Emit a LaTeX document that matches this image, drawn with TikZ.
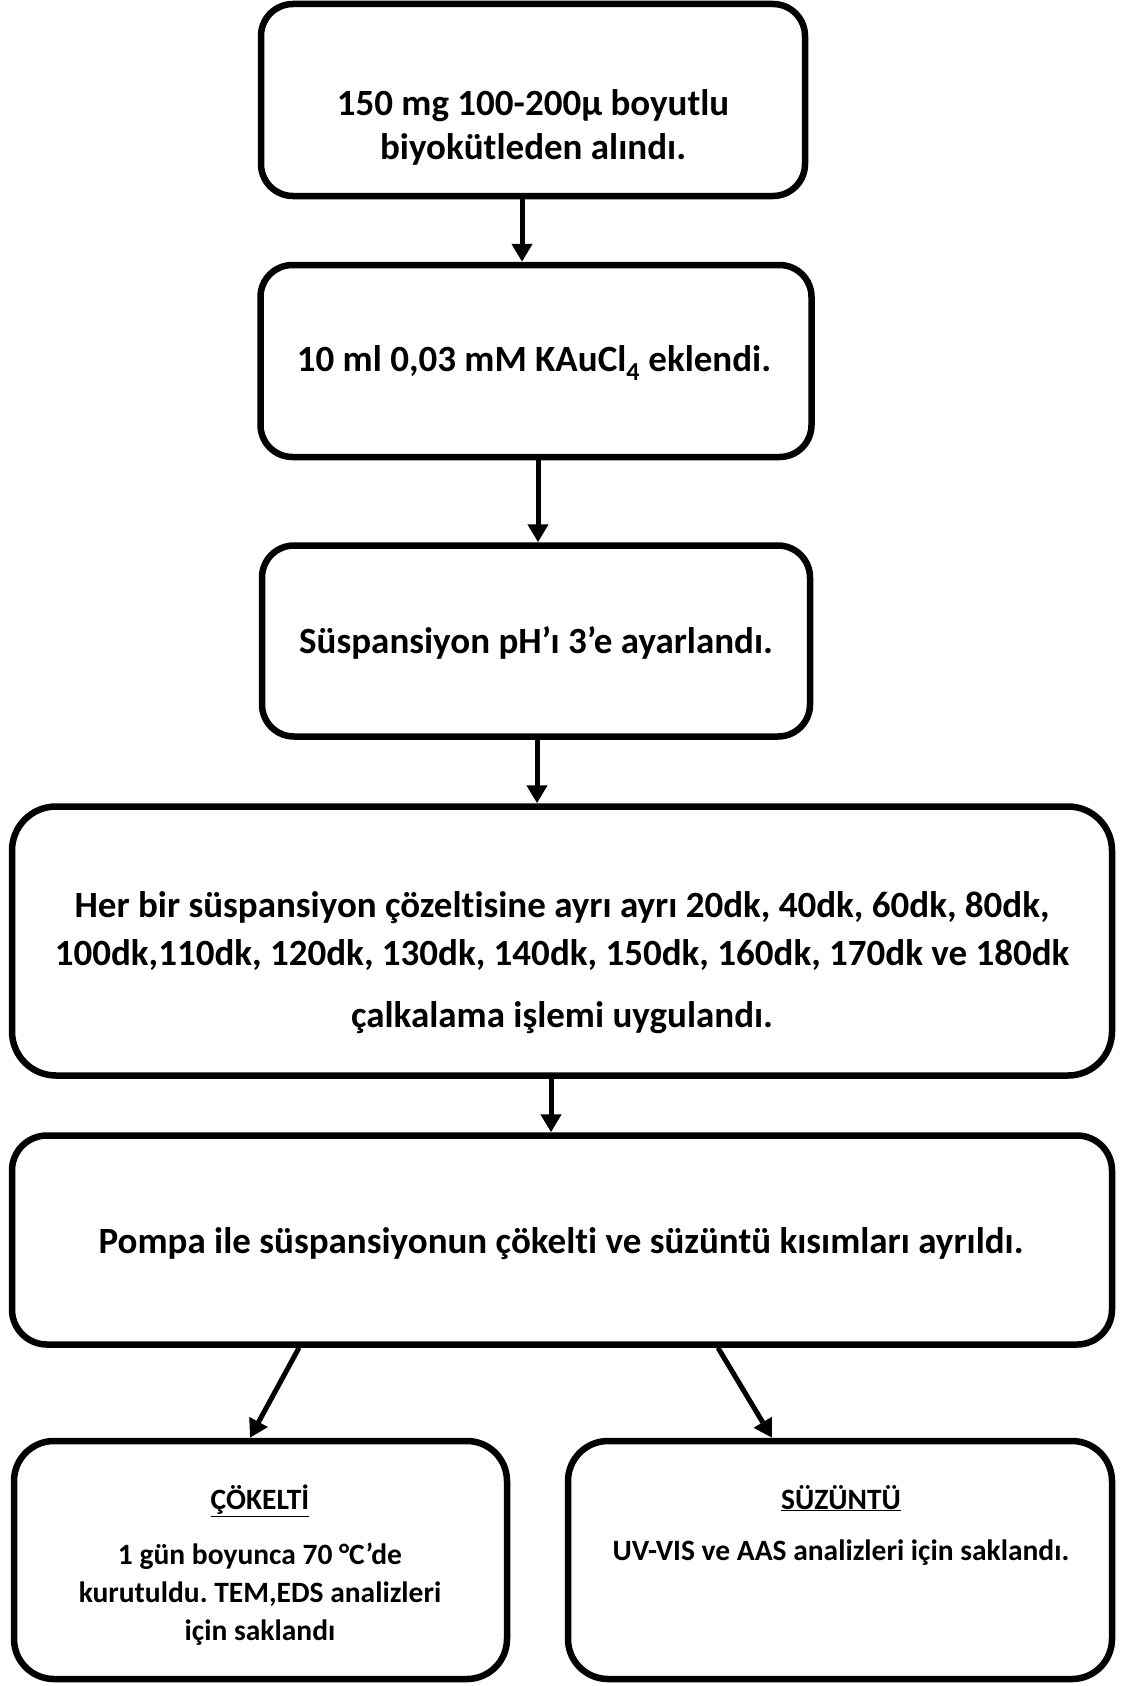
\documentclass[tikz,border=0pt]{standalone}
\usepackage{fontspec}
\setmainfont{Carlito}[Ligatures=NoCommon]
\usetikzlibrary{arrows.meta}
\frenchspacing

\begin{document}
\begin{tikzpicture}[x=1pt, y=-1pt,
    box_style/.style={draw=black, line width=6.5pt, inner sep=0pt},
    text_style/.style={align=center, inner sep=0pt, font=\bfseries\fontsize{37}{44}\selectfont},
    small_style/.style={align=center, inner sep=0pt, font=\bfseries\fontsize{29.5}{38}\selectfont},
    arrow_style/.style={draw=black, line width=5pt, -{Triangle[length=18pt, width=20pt]}}]

    \useasboundingbox (0,0) rectangle (1120,1686);

    % boxes
    \node[box_style, rounded corners=32pt, minimum width=544pt, minimum height=192pt] (b1) at (533,100) {};
    \node[box_style, rounded corners=32pt, minimum width=551pt, minimum height=192pt] (b2) at (536,361) {};
    \node[box_style, rounded corners=32pt, minimum width=548pt, minimum height=191pt] (b3) at (536,641) {};
    \node[box_style, rounded corners=44pt, minimum width=1100pt, minimum height=269pt] (b4) at (562,941) {};
    \node[box_style, rounded corners=35pt, minimum width=1100pt, minimum height=209pt] (b5) at (562,1240) {};
    \node[box_style, rounded corners=40pt, minimum width=493pt, minimum height=238pt] (b6) at (260.5,1560) {};
    \node[box_style, rounded corners=40pt, minimum width=544pt, minimum height=238pt] (b7) at (840,1560) {};

    % texts
    \node[text_style] (t1) at (533,127) {150 mg 100-200µ boyutlu\\biyokütleden alındı.};
    \node[text_style] (t2) at (534,363) {10 ml 0,03 mM KAuCl\textsubscript{4} eklendi.};
    \node[text_style] (t3) at (536,643) {Süspansiyon pH’ı 3’e ayarlandı.};
    \node[text_style, font=\bfseries\fontsize{37}{48}\selectfont] (t4) at (562,963) {Her bir süspansiyon çözeltisine ayrı ayrı 20dk, 40dk, 60dk, 80dk,\\100dk,110dk, 120dk, 130dk, 140dk, 150dk, 160dk, 170dk ve 180dk\\[14pt]çalkalama işlemi uygulandı.};
    \node[text_style] (t5) at (561,1244) {Pompa ile süspansiyonun çökelti ve süzüntü kısımları ayrıldı.};
    \node[small_style] (t6) at (260,1565) {\underline{ÇÖKELTİ}\\[17pt]1 gün boyunca 70 °C’de\\kurutuldu. TEM,EDS analizleri\\için saklandı};
    \node[small_style] (t7) at (841,1525) {\underline{SÜZÜNTÜ}\\[13pt]UV-VIS ve AAS analizleri için saklandı.};

    % arrow positions
    \coordinate (a1) at (522,0);
    \coordinate (a2) at (538,0);
    \coordinate (a3) at (537,0);
    \coordinate (a4) at (551,0);
    \coordinate (ls) at (299,0);
    \coordinate (le) at (250,0);
    \coordinate (rs) at (718,0);
    \coordinate (re) at (772,0);

    \draw[arrow_style] (b1.south -| a1) -- (b2.north -| a1);
    \draw[arrow_style] (b2.south -| a2) -- (b3.north -| a2);
    \draw[arrow_style] (b3.south -| a3) -- (b4.north -| a3);
    \draw[arrow_style] (b4.south -| a4) -- (b5.north -| a4);
    \draw[arrow_style] (b5.south -| ls) -- (b6.north -| le);
    \draw[arrow_style] (b5.south -| rs) -- (b7.north -| re);
\end{tikzpicture}
\end{document}
